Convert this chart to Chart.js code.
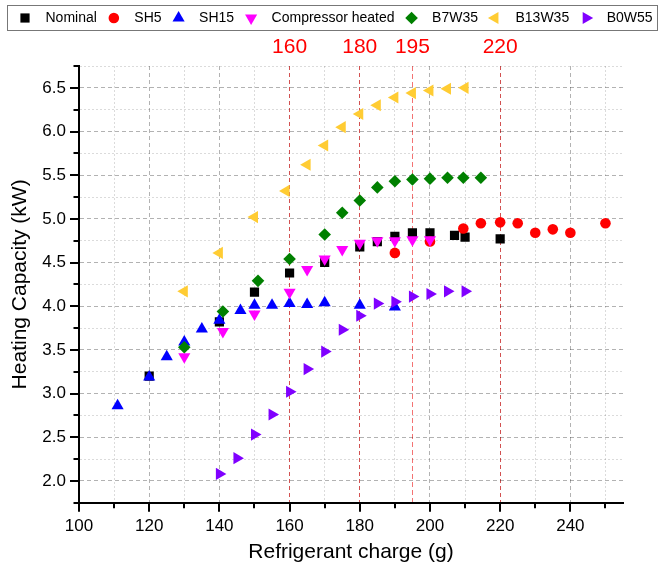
<!DOCTYPE html>
<html>
<head>
<meta charset="utf-8">
<script src="https://cdn.jsdelivr.net/npm/chart.js@4/dist/chart.umd.min.js"></script>
<style>
  html, body { margin: 0; padding: 0; background: #fff; }
  #wrap { width: 662px; height: 576px; position: relative; }
</style>
</head>
<body>
<div id="wrap"><canvas id="capChart"></canvas></div>
<script>
//..data
const nominalX = [120, 140, 150, 160, 170, 180, 185, 190, 195, 200, 207, 210, 220];
const nominalY = [3.20, 3.82, 4.16, 4.38, 4.50, 4.68, 4.74, 4.80, 4.84, 4.84, 4.81, 4.79, 4.77];

const sh5X = [190, 200, 209.5, 214.5, 220, 225, 230, 235, 240, 250];
const sh5Y = [4.61, 4.74, 4.89, 4.95, 4.96, 4.95, 4.84, 4.88, 4.84, 4.95];

const sh15X = [111, 120, 125, 130, 135, 140, 146, 150, 155, 160, 165, 170, 180, 190];
const sh15Y = [2.86, 3.19, 3.42, 3.59, 3.74, 3.84, 3.95, 4.01, 4.01, 4.03, 4.02, 4.04, 4.01, 3.99];

const compX = [130, 141, 150, 160, 165, 170, 175, 180, 185, 190, 195, 200];
const compY = [3.42, 3.71, 3.91, 4.16, 4.42, 4.54, 4.65, 4.72, 4.75, 4.75, 4.76, 4.76];

const b7X = [130, 141, 151, 160, 170, 175, 180, 185, 190, 195, 200, 205, 209.5, 214.5];
const b7Y = [3.53, 3.94, 4.29, 4.54, 4.82, 5.07, 5.21, 5.36, 5.43, 5.45, 5.46, 5.47, 5.47, 5.47];

const b13X = [130, 140, 150, 159, 165, 170, 175, 180, 185, 190, 195, 200, 205, 210];
const b13Y = [4.17, 4.61, 5.02, 5.32, 5.62, 5.84, 6.05, 6.20, 6.30, 6.39, 6.44, 6.47, 6.49, 6.50];

const b0X = [140, 145, 150, 155, 160, 165, 170, 175, 180, 185, 190, 195, 200, 205, 210];
const b0Y = [2.08, 2.26, 2.53, 2.76, 3.02, 3.28, 3.48, 3.73, 3.89, 4.03, 4.05, 4.11, 4.14, 4.17, 4.17];

//..axis ticks and the red reference charges
const xTicks = [100, 110, 120, 130, 140, 150, 160, 170, 180, 190, 200, 210, 220, 230, 240, 250];
const xLabels = ['100', '', '120', '', '140', '', '160', '', '180', '', '200', '', '220', '', '240', ''];
const yTicks = [1.75, 2.0, 2.25, 2.5, 2.75, 3.0, 3.25, 3.5, 3.75, 4.0, 4.25, 4.5, 4.75, 5.0, 5.25, 5.5, 5.75, 6.0, 6.25, 6.5, 6.75];
const yLabels = ['', '2.0', '', '2.5', '', '3.0', '', '3.5', '', '4.0', '', '4.5', '', '5.0', '', '5.5', '', '6.0', '', '6.5', ''];
const refCharges = [160, 180, 195, 220];

const FONT = "'Liberation Sans', Arial, sans-serif";
Chart.defaults.font.family = FONT;
Chart.defaults.color = '#000';

const pts = (xs, ys) => xs.map((x, i) => ({x: x, y: ys[i]}));

const series = [
    {label: 'Nominal', xs: nominalX, ys: nominalY, color: '#000000', style: 'rect', rot: 0, r: 6.5},
    {label: 'SH5', xs: sh5X, ys: sh5Y, color: '#ff0000', style: 'circle', rot: 0, r: 5.3},
    {label: 'SH15', xs: sh15X, ys: sh15Y, color: '#0000ff', style: 'triangle', rot: 0, r: 7},
    {label: 'Compressor heated', xs: compX, ys: compY, color: '#ff00ff', style: 'triangle', rot: 180, r: 7},
    {label: 'B7W35', xs: b7X, ys: b7Y, color: '#008000', style: 'rectRot', rot: 0, r: 6.3},
    {label: 'B13W35', xs: b13X, ys: b13Y, color: '#ffcc33', style: 'triangle', rot: 270, r: 7},
    {label: 'B0W55', xs: b0X, ys: b0Y, color: '#8000ff', style: 'triangle', rot: 90, r: 7}
];

const datasets = series.map((s, i) => ({
    label: s.label,
    data: pts(s.xs, s.ys),
    backgroundColor: s.color,
    borderColor: s.color,
    pointStyle: s.style,
    pointRotation: s.rot,
    pointRadius: s.r,
    pointHoverRadius: s.r,
    pointBorderWidth: 0,
    showLine: false,
    order: -i
}));

const isMajorX = v => v % 20 === 0;
const isMajorY = v => Math.abs(v * 2 - Math.round(v * 2)) < 1e-6;

//..boxed legend across the top
const legendBox = {
    id: 'legendBox',
    afterDraw(chart) {
        const ctx = chart.ctx;
        ctx.save();
        ctx.strokeStyle = '#777';
        ctx.lineWidth = 1;
        ctx.strokeRect(7.5, 5.5, 650, 25);
        ctx.font = '14px ' + FONT;
        ctx.textBaseline = 'middle';
        let x = 25;
        series.forEach(s => {
            ctx.fillStyle = s.color;
            Chart.helpers.drawPoint(ctx, {pointStyle: s.style, rotation: s.rot, radius: s.r, borderWidth: 0}, x, 18);
            ctx.fillStyle = '#000';
            ctx.fillText(s.label, x + 20.5, 18.5);
            x += 20.5 + ctx.measureText(s.label).width + 17;
        });
        ctx.restore();
    }
};

//..outward major / minor tick marks
const axisTicks = {
    id: 'axisTicks',
    afterDraw(chart) {
        const {ctx, chartArea: a, scales: {x, y}} = chart;
        ctx.save();
        ctx.strokeStyle = '#000';
        ctx.lineWidth = 2;
        ctx.beginPath();
        xTicks.forEach(v => {
            const px = Math.round(x.getPixelForValue(v));
            ctx.moveTo(px, a.bottom);
            ctx.lineTo(px, a.bottom + (isMajorX(v) ? 9 : 5.5));
        });
        yTicks.forEach(v => {
            const py = Math.round(y.getPixelForValue(v));
            ctx.moveTo(a.left, py);
            ctx.lineTo(a.left - (isMajorY(v) ? 9 : 5.5), py);
        });
        ctx.stroke();
        ctx.restore();
    }
};

new Chart(document.getElementById('capChart'), {
    type: 'scatter',
    data: {datasets},
    options: {
        responsive: true,
        maintainAspectRatio: false,
        animation: false,
        layout: {padding: {left: 0, right: 39, top: 0, bottom: 0}},
        plugins: {
            legend: {display: false},
            tooltip: {enabled: false}
        },
        scales: {
            x: {
                type: 'linear',
                position: 'bottom',
                min: 100,
                max: 255,
                afterBuildTicks: s => { s.ticks = xTicks.map(v => ({value: v})); },
                afterFit: s => { s.height = 73.3; },
                ticks: {
                    autoSkip: false,
                    maxRotation: 0,
                    padding: 13,
                    font: {size: 17},
                    callback: (v, i) => xLabels[i]
                },
                grid: {
                    drawTicks: false,
                    lineWidth: 1,
                    color: c => isMajorX(c.tick.value) ? 'rgba(0,0,0,0.3)' : 'rgba(0,0,0,0.14)'
                },
                border: {
                    display: true,
                    color: '#000',
                    width: 2,
                    dash: c => (c.tick ? (isMajorX(c.tick.value) ? [4, 3] : [2, 2]) : [])
                },
                title: {
                    display: true,
                    text: 'Refrigerant charge (g)',
                    font: {size: 21},
                    padding: {top: 0, bottom: 11}
                }
            },
            x2: {
                type: 'linear',
                position: 'top',
                min: 100,
                max: 255,
                afterBuildTicks: s => { s.ticks = refCharges.map(v => ({value: v})); },
                afterFit: s => { s.height = 66; },
                ticks: {
                    autoSkip: false,
                    maxRotation: 0,
                    padding: 6,
                    color: '#ff0000',
                    font: {size: 21}
                },
                grid: {
                    drawTicks: false,
                    lineWidth: 1,
                    color: 'rgba(235,0,0,0.55)'
                },
                border: {
                    display: false,
                    dash: c => (c.tick && c.tick.value === 195 ? [5, 3] : [4, 3])
                }
            },
            y: {
                type: 'linear',
                min: 1.75,
                max: 6.75,
                afterBuildTicks: s => { s.ticks = yTicks.map(v => ({value: v})); },
                afterFit: s => { s.width = 79; },
                ticks: {
                    autoSkip: false,
                    padding: 13,
                    font: {size: 17},
                    callback: (v, i) => yLabels[i]
                },
                grid: {
                    drawTicks: false,
                    lineWidth: 1,
                    color: c => isMajorY(c.tick.value) ? 'rgba(0,0,0,0.3)' : 'rgba(0,0,0,0.14)'
                },
                border: {
                    display: true,
                    color: '#000',
                    width: 2,
                    dash: c => (c.tick ? (isMajorY(c.tick.value) ? [4, 3] : [2, 2]) : [])
                },
                title: {
                    display: true,
                    text: 'Heating Capacity (kW)',
                    font: {size: 21},
                    padding: {top: 8, bottom: 0}
                }
            }
        }
    },
    plugins: [legendBox, axisTicks]
});
</script>
</body>
</html>
